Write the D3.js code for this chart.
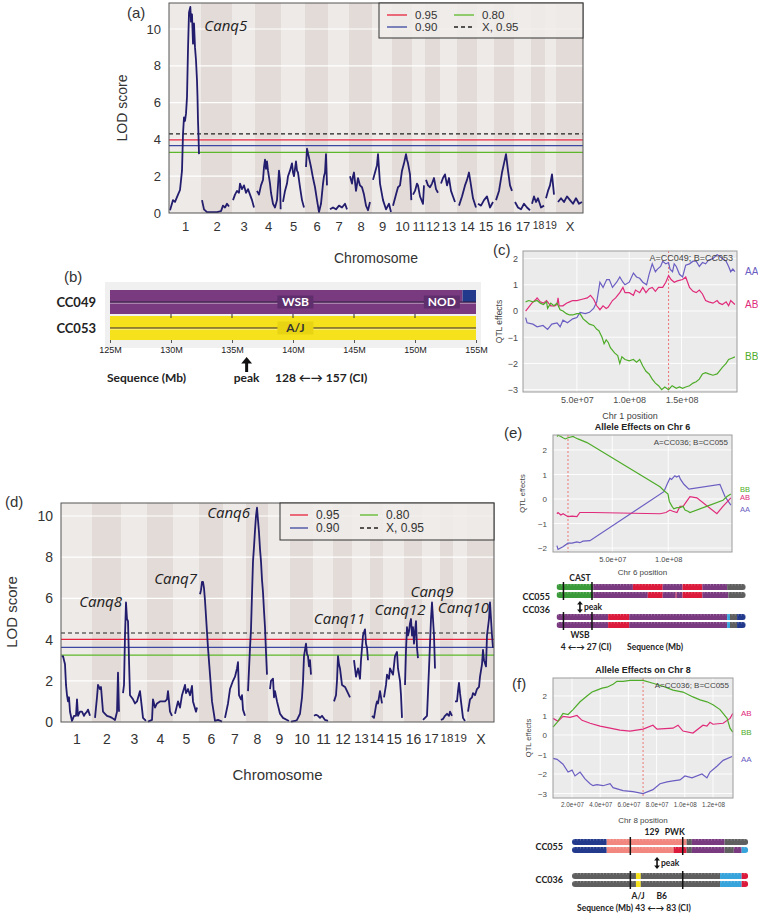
<!DOCTYPE html>
<html>
<head>
<meta charset="utf-8">
<title>Canq QTL figure</title>
<script src="https://cdn.jsdelivr.net/npm/d3@7/dist/d3.min.js"></script>
<style>
  body { margin: 0; background: #fff; }
  svg { display: block; }
  text { font-family: "Liberation Sans", Arial, sans-serif; fill: #333; }
  .cal { font-family: Lato, "Open Sans", sans-serif; font-weight: bold; fill: #222; }
  .canq { font-family: "Open Sans", sans-serif; font-style: italic; fill: #222; }
</style>
</head>
<body>
<svg id="figure" width="758" height="915"></svg>
<script>
const chromosomes = ['1','2','3','4','5','6','7','8','9','10','11','12','13','14','15','16','17','18','19','X'];

// chromosome lengths (cM) as laid out on the two genome scans
const chrLenA = [96,93,69,78,72,69,63,69,60,60,39,45,51,60,51,60,51,42,33,81];
const chrLenD = [93,87,78,78,78,72,69,66,66,69,60,57,54,39,63,54,54,39,42,81];

// genome scan (a): one list of [cM, LOD] per chromosome
const lodA = [
  [[3,0.15],[12,0.7],[18,0.6],[27,1.0],[33,1.25],[39,2.3],[42,4.3],[45,5.2],[48,5.0],[51,5.4],[54,6.3],[57,8.9],[60,10.9],[64,11.2],[66,10.4],[69,10.8],[72,9.2],[75,10.3],[78,9.0],[81,8.3],[84,7.2],[85.5,6.3],[87,5.0],[88.5,4.2],[90,3.2]],
  [[3,0.7],[9,0.2],[18,0.05],[33,0.05],[48,0.05],[60,0.1],[66,0.4],[72,0.3],[78,0.5],[84,0.35]],
  [[3,0.7],[9,1.0],[15,1.2],[21,1.1],[24,1.6],[30,1.3],[36,1.5],[42,1.1],[48,1.3],[54,1.0],[60,0.7],[66,0.3]],
  [[6,1.2],[12,1.0],[18,1.5],[24,1.8],[27,2.5],[30,2.9],[33,2.4],[36,2.8],[39,2.3],[45,1.6],[48,1.1],[54,0.5],[60,0.3],[66,0.7],[69,1.5],[72,2.3],[75,1.8],[77,0.2]],
  [[6,0.6],[12,1.2],[18,1.6],[21,2.0],[27,2.3],[33,2.7],[36,2.2],[39,2.0],[45,2.8],[48,2.3],[51,2.2],[57,1.4],[63,0.7],[69,0.3]],
  [[3,2.5],[6,3.5],[12,3.0],[18,2.5],[24,1.9],[30,1.4],[36,0.7],[42,0.05],[48,0.5],[54,1.6],[57,2.0],[60,2.2],[63,3.2],[66,1.5]],
  [[6,0.2],[15,0.3],[24,0.2],[33,0.4],[42,0.3],[51,0.5],[57,0.2]],
  [[3,2.0],[9,1.6],[12,2.0],[15,2.2],[21,1.2],[27,1.9],[33,1.5],[39,1.4],[45,1.0],[51,0.4],[57,0.15],[63,0.6]],
  [[3,1.8],[9,2.2],[15,2.6],[18,3.2],[24,1.6],[33,0.7],[42,0.2],[51,0.5],[57,0.05]],
  [[3,0.4],[12,1.0],[18,1.4],[24,1.5],[30,2.3],[36,2.7],[42,3.2],[45,2.9],[48,2.7],[54,2.1],[58,0.7]],
  [[3,1.0],[9,1.2],[15,1.6],[18,1.5],[24,0.9],[33,0.5],[36,1.5]],
  [[3,1.8],[9,1.5],[15,1.4],[21,1.6],[27,1.9],[33,1.3],[39,1.1]],
  [[3,1.6],[9,1.9],[15,2.1],[21,1.5],[27,1.9],[33,1.2],[39,0.9],[45,0.6]],
  [[6,0.4],[15,0.9],[24,1.5],[30,1.8],[36,2.2],[42,1.5],[48,0.8],[57,0.3]],
  [[3,0.5],[12,0.4],[21,0.7],[30,0.9],[39,0.3],[48,0.6]],
  [[6,0.7],[15,1.2],[24,2.2],[30,2.7],[36,3.2],[42,2.3],[48,1.5],[54,1.2]],
  [[3,0.6],[12,0.3],[21,0.2],[30,0.5],[39,0.3],[48,0.15]],
  [[3,0.5],[9,0.9],[15,0.6],[21,0.8],[30,0.3],[39,0.4]],
  [[3,0.8],[9,1.2],[15,1.5],[21,2.1],[27,1.0]],
  [[6,0.6],[15,0.8],[24,0.6],[33,0.9],[42,0.7],[51,0.5],[60,0.8],[69,0.5],[78,0.6]]
];

// genome scan (d)
const lodD = [
  [[3,3.15],[6,3.2],[9,3.0],[12,2.8],[15,1.8],[18,1.3],[21,1.0],[24,1.2],[27,0.5],[33,0.05],[39,0.3],[45,0.3],[48,1.1],[51,0.3],[57,0.5],[63,0.5],[69,0.3],[72,0.4],[78,0.5],[81,0.6],[87,0.3]],
  [[9,0.2],[15,1.2],[18,1.8],[24,1.6],[27,1.7],[33,0.5],[39,0.4],[45,0.3],[54,0.25],[60,0.2],[69,0.1],[75,0.5],[78,2.4],[81,0.5]],
  [[6,1.4],[9,1.8],[12,4.2],[15,5.8],[18,5.0],[21,4.9],[24,3.0],[27,1.3],[36,1.1],[42,0.9],[48,1.0],[57,1.5],[63,0.65],[66,0.2],[75,0.05]],
  [[3,0.02],[15,0.1],[18,1.1],[24,0.7],[30,0.9],[39,1.0],[48,1.0],[54,1.0],[60,1.1],[63,1.5],[69,0.5],[75,0.3]],
  [[6,0.4],[15,1.0],[21,0.7],[27,1.3],[36,1.8],[39,1.4],[45,1.6],[51,1.3],[57,1.75],[60,1.0],[69,0.5],[72,0.7]],
  [[3,6.2],[6,6.4],[9,6.8],[12,6.8],[15,6.5],[18,5.9],[27,3.6],[39,1.0],[48,0.05],[57,0.1],[69,0.02]],
  [[6,0.2],[15,0.9],[21,1.6],[30,2.0],[36,2.2],[42,2.6],[45,2.9],[48,1.3],[54,1.1],[57,1.3],[60,0.6],[66,0.3]],
  [[6,1.5],[12,3.6],[15,4.5],[18,6.2],[21,7.8],[24,8.5],[27,9.3],[30,10.0],[33,10.4],[36,9.8],[39,9.2],[42,8.4],[45,7.8],[48,6.9],[51,6.3],[54,5.4],[57,4.6],[60,3.4],[63,2.3]],
  [[6,1.6],[9,2.0],[15,2.1],[18,1.2],[21,1.5],[27,1.0],[36,0.4],[45,0.2],[57,0.1],[63,0.05]],
  [[3,0.02],[15,0.05],[21,0.1],[30,0.4],[36,1.2],[39,1.95],[42,3.2],[48,3.8],[51,3.3],[54,3.2],[57,2.7],[60,3.0],[63,2.3]],
  [[3,0.3],[9,0.35],[15,0.3],[21,0.2],[27,0.3],[36,0.1],[45,0.05]],
  [[3,1.0],[9,1.3],[12,2.0],[15,3.2],[18,2.8],[21,2.6],[27,1.8],[36,1.7],[45,1.4],[51,1.2]],
  [[6,3.0],[9,2.6],[12,2.2],[18,2.6],[24,2.1],[27,3.0],[30,3.6],[33,4.2],[39,4.5],[42,3.8],[45,3.6],[48,3.0]],
  [[6,0.3],[12,0.2],[18,0.8],[21,1.0],[24,0.9],[30,1.5],[36,0.9]],
  [[3,1.2],[9,1.8],[12,2.3],[18,2.1],[21,2.6],[27,2.4],[30,2.3],[36,3.2],[42,3.4],[45,2.6],[51,2.0],[54,1.3],[57,0.2]],
  [[3,1.8],[6,3.5],[9,4.6],[12,4.2],[15,4.4],[18,4.8],[21,5.0],[24,4.2],[27,4.6],[30,3.8],[33,4.4],[36,4.9],[39,3.6],[42,3.1]],
  [[3,0.1],[9,0.2],[15,0.3],[21,2.6],[24,3.8],[27,5.0],[30,5.8],[33,5.0],[36,4.2],[39,2.6]],
  [[3,0.1],[9,0.15],[15,0.3],[21,0.4],[27,0.3],[30,0.5],[36,0.3]],
  [[6,1.0],[12,1.0],[15,1.5],[18,1.9],[21,1.4],[24,1.0],[30,0.2],[36,0.05]],
  [[3,0.5],[9,1.1],[15,1.2],[18,1.4],[24,1.3],[30,1.6],[36,1.7],[39,2.2],[45,2.8],[48,3.5],[51,3.0],[57,2.7],[60,4.2],[63,4.6],[66,5.0],[69,5.8],[72,5.0],[75,4.2],[78,3.6]]
];

// permutation thresholds: 0.95, 0.90, 0.80, X-chromosome 0.95
const thresholdNames = ['0.95', '0.90', '0.80', 'X, 0.95'];
const thresholdsA = [3.97, 3.66, 3.3, 4.3];
const thresholdsD = [4.01, 3.62, 3.25, 4.32];

const qtlNamesA = ['Canq5'];
const qtlChrA = ['1'];
const qtlNamesD = ['Canq8', 'Canq7', 'Canq6', 'Canq11', 'Canq12', 'Canq9', 'Canq10'];
const qtlChrD = ['3', '6', '8', '13', '16', '17', 'X'];

// allele effects (c), chr 1: [Mb, effect]
const effC_AA = [[1,-0.25],[2.4,-0.45],[8,-0.5],[12,-0.6],[17.6,-0.55],[22,-0.7],[26,-0.5],[31,-0.45],[34,-0.6],[36.7,-0.35],[41,-0.45],[46,-0.3],[50,-0.25],[53,-0.05],[58,-0.1],[62,-0.05],[66,0.1],[69,0.35],[72,1.1],[75,0.9],[78.5,1.2],[81,1.2],[84,0.9],[88,1.1],[91,1.3],[94,1.1],[96,1.0],[100,1.1],[104,1.45],[107,1.3],[110,1.25],[113,1.1],[116.6,1.0],[119,1.4],[122,1.8],[125,1.5],[127,1.6],[130,1.7],[132,1.9],[135,1.8],[137.6,1.85],[139,1.6],[141.4,1.5],[143,1.8],[145,1.7],[148,1.4],[151,1.3],[154,1.75],[157.6,1.8],[161,1.9],[164,1.9],[167,1.7],[170,1.85],[173,1.8],[176,1.95],[180,2.0],[184,2.15],[186,2.1],[189,2.0],[192.6,1.9],[195,1.7],[197,1.5],[199,1.6],[201,1.5]];
const effC_AB = [[1,0.0],[4,0.15],[7,0.3],[11,0.45],[12,0.5],[15,0.35],[18,0.3],[21,0.4],[25,0.2],[29,0.2],[31,0.25],[32,0.5],[33,0.2],[36.7,0.2],[40,0.3],[43,0.35],[46,0.4],[50,0.4],[55,0.45],[60,0.5],[63,0.6],[66,0.45],[69,0.2],[72,0.05],[75,0.2],[78,0.1],[80,0.15],[84,0.4],[87,0.5],[91,0.7],[94,0.9],[96,0.7],[100,0.7],[104,0.6],[106,0.8],[110,0.7],[113,0.9],[116,0.7],[119,0.85],[122,0.9],[125,0.75],[128,0.9],[132,0.9],[135,1.1],[137.6,1.35],[140,1.2],[143,1.1],[146,1.15],[151,1.2],[154,1.3],[157.6,0.9],[161,0.75],[164,0.7],[167,0.8],[170,0.65],[173,0.4],[176,0.35],[180,0.3],[184,0.4],[186,0.3],[189,0.25],[192.6,0.35],[195,0.2],[197,0.4],[201,0.25]];
const effC_BB = [[1,0.35],[4,0.4],[8,0.35],[12,0.4],[15,0.3],[18,0.25],[21,0.35],[22,0.1],[25,0.3],[28,0.2],[31,0.3],[34,0.05],[36.7,0.0],[40,-0.1],[43,-0.15],[46,-0.15],[50,-0.1],[53,-0.1],[56,-0.3],[59,-0.4],[62,-0.5],[66,-0.55],[69,-0.7],[71,-0.75],[74,-1.0],[76,-1.25],[78,-1.1],[80,-1.2],[82,-1.4],[86,-1.6],[89,-1.7],[91,-2.0],[93,-1.75],[96,-1.85],[100,-1.9],[104,-1.85],[107,-1.95],[110,-1.85],[113,-2.1],[116,-2.3],[119,-2.4],[122,-2.6],[125,-2.75],[128,-2.85],[131,-3.0],[134,-2.9],[137.6,-3.0],[141,-2.85],[145,-2.95],[148,-2.9],[151,-2.95],[154,-2.9],[157.6,-2.85],[161,-2.75],[164,-2.7],[167,-2.6],[170,-2.4],[173,-2.35],[176,-2.4],[180,-2.45],[184,-2.4],[186,-2.3],[189,-2.15],[192.6,-2.0],[195,-1.85],[198,-1.8],[201,-1.75]];

// allele effects (e), chr 6
const effE_AA = [[0.5,-1.9],[1.5,-2.05],[5.9,-1.95],[10.4,-1.8],[14,-1.8],[18.4,-1.75],[21,-1.78],[23.8,-1.72],[30,-1.7],[96.1,0.3],[99,0.6],[101.5,0.85],[103,0.8],[105.9,0.95],[107.5,0.9],[109.6,0.95],[111,0.8],[114,0.6],[118.5,0.4],[146.2,0.6],[150.7,0.1],[156,-0.25]];
const effE_AB = [[0.5,-0.6],[1.5,-0.55],[4,-0.65],[6,-0.6],[10.4,-0.72],[14,-0.7],[18.4,-0.72],[21,-0.55],[32.6,-0.55],[92.6,-0.6],[98,-0.55],[101.5,-0.45],[104,-0.5],[107.8,-0.55],[110.5,-0.3],[113.3,-0.3],[119.4,0.1],[125.6,0.05],[143.5,-0.6],[148.9,-0.3],[156,0.05]];
const effE_BB = [[0.5,2.55],[1.5,2.6],[4,2.55],[5.9,2.5],[8,2.45],[10.4,2.5],[14.9,2.55],[17,2.5],[19.3,2.45],[27.4,2.3],[92.6,0.5],[96,0.35],[99.8,0.2],[101,-0.1],[103.4,-0.3],[105,-0.4],[107.8,-0.35],[110.5,-0.35],[113.3,-0.3],[115,-0.45],[117.6,-0.5],[119.4,-0.55],[137.3,-0.25],[148.9,-0.05],[152.5,0.1],[156,0.2]];

// allele effects (f), chr 8
const effF_AA = [[6.5,-1.2],[9.4,-1.25],[13.6,-1.5],[17.2,-1.9],[20,-1.8],[22.1,-2.1],[25.7,-1.9],[29.2,-2.25],[32.8,-2.5],[34.9,-2.6],[37.7,-2.55],[42,-2.6],[47,-2.5],[49.1,-2.7],[56.2,-2.85],[63.3,-2.9],[70.4,-3.0],[77.4,-2.8],[82.4,-2.5],[87.4,-2.4],[91.6,-2.35],[96.6,-2.3],[100.1,-2.1],[105.1,-2.2],[112.2,-2.0],[115.7,-2.2],[117.9,-1.9],[122.8,-1.6],[127.2,-1.3],[133.5,-1.1]];
const effF_AB = [[6.5,0.85],[10.1,0.7],[13.6,0.95],[18.6,0.9],[23.5,1.0],[27.1,0.75],[32.8,0.6],[39.9,0.45],[47,0.35],[54,0.25],[61.1,0.2],[70.4,0.3],[77.4,0.5],[80.3,0.3],[91.6,0.35],[95.2,0.5],[98.7,0.2],[105.8,0.1],[112.9,0.5],[115.7,0.45],[117.9,0.65],[120,0.55],[127.2,0.6],[132.1,0.85],[134,1.1]];
const effF_BB = [[6.5,0.4],[9.4,0.65],[13.6,1.1],[17.2,1.05],[20.7,1.3],[25.7,1.7],[30.6,2.0],[34.2,2.2],[37.7,2.3],[41.3,2.4],[44.8,2.45],[49.1,2.6],[51.9,2.75],[56.2,2.75],[61.1,2.8],[70.4,2.8],[77.4,2.65],[84.5,2.5],[91.6,2.3],[98.7,2.2],[105.8,1.95],[110.8,1.8],[115.7,1.7],[120,1.55],[125,1.3],[130,0.85],[132.1,0.35],[134,0.15]];

// haplotype mosaics: [startMb, endMb, founder], two copies per strain
const hapB_CC049 = [[[125,153.9,'WSB'],[153.9,155,'NOD']], [[125,155,'WSB']]];
const hapB_CC053 = [[[125,155,'AJ']], [[125,155,'AJ']]];
const hapE_CC055 = [
  [[0,28,'CAST'],[28,60,'WSB'],[60,84,'PWK'],[84,100,'WSB'],[100,116,'PWK'],[116,136,'WSB'],[136,151,'B6']],
  [[0,28,'CAST'],[28,72,'WSB'],[72,84,'PWK'],[84,94.5,'WSB'],[94.5,95.3,'PWK'],[95.3,100,'WSB'],[100,116,'PWK'],[116,137,'WSB'],[137,151,'B6']]
];
const hapE_CC036 = [
  [[0,40,'WSB'],[40,57,'PWK'],[57,136,'WSB'],[136,138.3,'NZO'],[138.3,144,'B6'],[144,151,'NOD']],
  [[0,40,'WSB'],[40,57,'PWK'],[57,136,'WSB'],[136,138.3,'NZO'],[138.3,144,'B6'],[144,151,'NOD']]
];
const hapF_CC055 = [
  [[0,25,'NOD'],[25,86,'129'],[86,90,'B6'],[90,115,'WSB'],[115,133,'B6']],
  [[0,25,'NOD'],[25,76,'129'],[76,86,'PWK'],[86,90,'B6'],[90,115,'WSB'],[115,122,'B6'],[122,128,'WSB'],[128,133,'NZO']]
];
const hapF_CC036 = [
  [[0,47.3,'B6'],[47.3,51,'AJ'],[51,111.5,'B6'],[111.5,128,'NZO'],[128,133,'PWK']],
  [[0,47.3,'B6'],[47.3,51,'AJ'],[51,111.5,'B6'],[111.5,128,'NZO'],[128,133,'PWK']]
];

const founderColors = {AJ:'#f6e21c', B6:'#5f5f5f', '129':'#f1877f', NOD:'#22398c', NZO:'#38a4dc', CAST:'#3b9b3b', PWK:'#dc1a3c', WSB:'#7a3a80'};
const effectColors = {AA:'#6a5ec2', AB:'#e02a7a', BB:'#4fac2a'};
const thresholdStyles = [
  {color:'#e8233c', width:1.2, dash:null},
  {color:'#3b47a0', width:1.2, dash:null},
  {color:'#5cb82a', width:1.3, dash:null},
  {color:'#222', width:1.2, dash:'4,3'}
];

const svg = d3.select('#figure');
svg.append('rect').attr('width', 758).attr('height', 915).attr('fill', '#fff');
let clipCount = 0;

function styleAxis(ax, size, color) {
  ax.attr('font-family', null).attr('font-size', size);
  ax.select('.domain').remove();
  ax.selectAll('text').style('fill', color);
}

// shrink neighbouring tick labels that would run into each other
function squeezeLabels(ax, size) {
  const nodes = ax.selectAll('text').nodes();
  for (let i = 0; i < nodes.length - 1; i++) {
    let fs = size;
    while (fs > 8) {
      const a = nodes[i].getBBox(), b = nodes[i + 1].getBBox();
      const ax0 = nodes[i].parentNode.transform.baseVal.consolidate().matrix.e;
      const bx0 = nodes[i + 1].parentNode.transform.baseVal.consolidate().matrix.e;
      if (ax0 + a.x + a.width <= bx0 + b.x - 0.5) break;
      fs -= 0.5;
      d3.select(nodes[i]).attr('font-size', fs);
      d3.select(nodes[i + 1]).attr('font-size', fs);
    }
  }
}

function genomePanel(p) {
  const g = svg.append('g');
  const starts = [0].concat(Array.from(d3.cumsum(p.chrLen)));
  const x = d3.scaleLinear().domain([0, starts[starts.length - 1]]).range([p.left, p.right]);
  const y = d3.scaleLinear().domain([0, 10]).range([p.yZero, p.yTen]);

  g.selectAll('rect.band').data(chromosomes).join('rect')
    .attr('x', (d, i) => x(starts[i])).attr('y', p.top)
    .attr('width', (d, i) => x(starts[i + 1]) - x(starts[i]))
    .attr('height', p.yZero - p.top)
    .attr('fill', (d, i) => i % 2 ? '#e3dbd7' : '#eeeae8');

  g.selectAll('line.grid').data([2, 4, 6, 8, 10]).join('line')
    .attr('x1', p.left).attr('x2', p.right)
    .attr('y1', d => y(d)).attr('y2', d => y(d))
    .attr('stroke', '#fff').attr('stroke-width', 1.2);

  p.thresholds.forEach((t, i) => {
    const s = thresholdStyles[i];
    g.append('line').attr('x1', p.left).attr('x2', p.right)
      .attr('y1', y(t)).attr('y2', y(t))
      .attr('stroke', s.color).attr('stroke-width', s.width)
      .attr('stroke-dasharray', s.dash);
  });

  const line = d3.line().x(d => x(d[0])).y(d => y(d[1]));
  p.lod.forEach((pts, i) => {
    g.append('path')
      .datum(pts.map(d => [starts[i] + d[0], d[1]]))
      .attr('d', line).attr('fill', 'none')
      .attr('stroke', '#231d6e').attr('stroke-width', 1.8)
      .attr('stroke-linejoin', 'round');
  });

  g.append('rect').attr('x', p.left).attr('y', p.top)
    .attr('width', p.right - p.left).attr('height', p.yZero - p.top)
    .attr('fill', 'none').attr('stroke', '#555').attr('stroke-width', 1);

  const ya = g.append('g').attr('transform', `translate(${p.left},0)`)
    .call(d3.axisLeft(y).tickValues([0, 2, 4, 6, 8, 10]).tickSize(0).tickPadding(p.left - p.tickRight));
  styleAxis(ya, p.tickSize, '#333');

  const mids = chromosomes.map((c, i) => (starts[i] + starts[i + 1]) / 2);
  const xa = g.append('g').attr('transform', `translate(0,${p.yZero})`)
    .call(d3.axisBottom(x).tickValues(mids).tickFormat((d, i) => chromosomes[i]).tickSize(0).tickPadding(p.chrPad));
  styleAxis(xa, p.tickSize, '#333');
  xa.selectAll('text').attr('font-size', p.tickSize);
  squeezeLabels(xa, p.tickSize);

  g.append('text').attr('x', (p.left + p.right) / 2).attr('y', p.xTitleY)
    .attr('text-anchor', 'middle').attr('font-size', p.titleSize).text('Chromosome');
  g.append('text').attr('transform', `translate(${p.yTitleX},${p.yTitleY}) rotate(-90)`)
    .attr('text-anchor', 'middle').attr('dy', '0.35em').attr('font-size', p.titleSize).text('LOD score');
  g.append('text').attr('x', p.tagX).attr('y', p.tagY).attr('font-size', 15).text(p.tag);

  // legend: 0.95 / 0.90 in the first column, 0.80 / X in the second
  const lg = p.legend;
  g.append('rect').attr('x', lg.x).attr('y', p.top).attr('width', p.right - lg.x).attr('height', lg.h)
    .attr('fill', '#f0ecea').attr('fill-opacity', 0.85).attr('stroke', '#333').attr('stroke-width', 1);
  thresholdNames.forEach((name, k) => {
    const col = k < 2 ? 0 : 1, row = k % 2;
    const s = thresholdStyles[k];
    const lx = lg.cols[col], ly = lg.rows[row];
    g.append('line').attr('x1', lx).attr('x2', lx + lg.lineW).attr('y1', ly).attr('y2', ly)
      .attr('stroke', s.color).attr('stroke-width', 1.3).attr('stroke-dasharray', s.dash);
    g.append('text').attr('x', lx + lg.lineW + 8).attr('y', ly).attr('dy', '0.35em')
      .attr('font-size', lg.size).text(name);
  });

  // QTL names next to their peaks
  p.qtlNames.forEach((name, j) => {
    const ci = chromosomes.indexOf(p.qtlChr[j]);
    const peak = d3.greatest(p.lod[ci], d => d[1]);
    const o = p.qtlLayout[j];
    g.append('text').attr('class', 'canq')
      .attr('x', x(starts[ci] + peak[0]) + o[0]).attr('y', y(peak[1]) + o[1])
      .attr('text-anchor', o[2]).attr('font-size', 15).text(name);
  });
}

genomePanel({
  chrLen: chrLenA, lod: lodA, thresholds: thresholdsA,
  left: 169, right: 583, top: 3, yZero: 213, yTen: 29,
  tickSize: 13, tickRight: 161, chrPad: 9,
  titleSize: 14, xTitleY: 263, yTitleX: 122, yTitleY: 108,
  tag: '(a)', tagX: 127, tagY: 18,
  legend: {x: 379, h: 35, cols: [387, 454], rows: [15, 27], lineW: 20, size: 11.5},
  qtlNames: qtlNamesA, qtlChr: qtlChrA, qtlLayout: [[14, 24, 'start']]
});

genomePanel({
  chrLen: chrLenD, lod: lodD, thresholds: thresholdsD,
  left: 61, right: 494, top: 503, yZero: 722, yTen: 516,
  tickSize: 14, tickRight: 53, chrPad: 12,
  titleSize: 15, xTitleY: 780, yTitleX: 12, yTitleY: 612,
  tag: '(d)', tagX: 5, tagY: 507,
  legend: {x: 280, h: 37, cols: [290, 360], rows: [515, 528], lineW: 18, size: 12},
  qtlNames: qtlNamesD, qtlChr: qtlChrD,
  qtlLayout: [[-4, 4, 'end'], [-5, 2, 'end'], [-7, 10, 'end'], [0, -5, 'end'], [-11, -4, 'middle'], [0, -5.5, 'middle'], [-1, 10, 'end']]
});

function effectPanel(p) {
  const g = svg.append('g');
  const x = d3.scaleLinear().domain(p.xDomain).range([p.left, p.right]);
  const y = d3.scaleLinear().domain(p.yDomain).range([p.bottom, p.top]);

  g.append('rect').attr('x', p.left).attr('y', p.top)
    .attr('width', p.right - p.left).attr('height', p.bottom - p.top).attr('fill', '#ebebeb');
  g.selectAll('line.gx').data(p.xTicks).join('line')
    .attr('x1', d => x(d)).attr('x2', d => x(d)).attr('y1', p.top).attr('y2', p.bottom)
    .attr('stroke', '#fff').attr('stroke-width', 0.9);
  g.selectAll('line.gy').data(p.yTicks).join('line')
    .attr('x1', p.left).attr('x2', p.right).attr('y1', d => y(d)).attr('y2', d => y(d))
    .attr('stroke', '#fff').attr('stroke-width', 0.9);
  g.append('line').attr('x1', x(p.peak)).attr('x2', x(p.peak)).attr('y1', p.top).attr('y2', p.bottom)
    .attr('stroke', '#ee6b6b').attr('stroke-width', 0.9).attr('stroke-dasharray', '2,2');

  const line = d3.line().x(d => x(d[0])).y(d => y(d[1]));
  p.series.forEach(([key, pts]) => {
    g.append('path').datum(pts).attr('d', line).attr('fill', 'none')
      .attr('stroke', effectColors[key]).attr('stroke-width', 1.2);
    const last = pts[pts.length - 1];
    g.append('text').attr('x', p.right + 8).attr('y', y(last[1]) + (p.labelShift[key] || 0))
      .attr('dy', '0.35em').attr('font-size', p.keySize).style('fill', effectColors[key]).text(key);
  });

  g.append('rect').attr('x', p.left).attr('y', p.top)
    .attr('width', p.right - p.left).attr('height', p.bottom - p.top)
    .attr('fill', 'none').attr('stroke', '#9c9c9c').attr('stroke-width', 1);

  const ya = g.append('g').attr('transform', `translate(${p.left},0)`)
    .call(d3.axisLeft(y).tickValues(p.yTicks).tickFormat(d3.format('d')).tickSize(0).tickPadding(p.yPad));
  styleAxis(ya, p.small, '#4a4a4a');
  const xa = g.append('g').attr('transform', `translate(0,${p.bottom})`)
    .call(d3.axisBottom(x).tickValues(p.xTicks).tickFormat((d, i) => p.xTickLabels[i]).tickSize(0).tickPadding(5));
  styleAxis(xa, p.xTickSize, '#4a4a4a');

  g.append('text').attr('x', p.right - 4).attr('y', p.top + 7).attr('dy', '0.35em')
    .attr('text-anchor', 'end').attr('font-size', p.small).style('fill', '#444').text(p.note);
  g.append('text').attr('x', (p.left + p.right) / 2).attr('y', p.xTitleY)
    .attr('text-anchor', 'middle').attr('font-size', p.small).style('fill', '#444').text(p.xTitle);
  g.append('text').attr('transform', `translate(${p.yTitleX},${(p.top + p.bottom) / 2}) rotate(-90)`)
    .attr('text-anchor', 'middle').attr('font-size', p.small - 0.5).style('fill', '#444').text('QTL effects');
  if (p.title) {
    g.append('text').attr('x', (p.left + p.right) / 2).attr('y', p.top - 5)
      .attr('text-anchor', 'middle').attr('font-size', p.small + 1).attr('font-weight', 'bold')
      .style('fill', '#222').text(p.title);
  }
  g.append('text').attr('x', p.tagX).attr('y', p.tagY).attr('font-size', 15).text(p.tag);
}

const ticksC = [50, 100, 150];
const tickLabelsC = ['5.0e+07', '1.0e+08', '1.5e+08'];
const ticksE = [50, 100];
const tickLabelsE = ['5.0e+07', '1.0e+08'];
const ticksF = [20, 40, 60, 80, 100, 120];
const tickLabelsF = ['2.0e+07', '4.0e+07', '6.0e+07', '8.0e+07', '1.0e+08', '1.2e+08'];

effectPanel({
  left: 523, right: 737, top: 251, bottom: 392,
  xDomain: [-1.5, 203], yDomain: [-3.09, 2.29],
  xTicks: ticksC, xTickLabels: tickLabelsC, yTicks: [-3, -2, -1, 0, 1, 2],
  peak: 137.6, small: 9, xTickSize: 9, keySize: 10, yPad: 5, labelShift: {},
  series: [['AA', effC_AA], ['AB', effC_AB], ['BB', effC_BB]],
  note: 'A=CC049; B=CC053', xTitle: 'Chr 1 position', xTitleY: 419, yTitleX: 502,
  tag: '(c)', tagX: 493, tagY: 255
});

effectPanel({
  left: 553, right: 732, top: 435, bottom: 552,
  xDomain: [-3, 157], yDomain: [-2.16, 2.61],
  xTicks: ticksE, xTickLabels: tickLabelsE, yTicks: [-2, -1, 0, 1, 2],
  peak: 10.4, small: 8, xTickSize: 7.5, keySize: 7.5, yPad: 6, labelShift: {BB: -5, AB: 0, AA: 4},
  series: [['AA', effE_AA], ['AB', effE_AB], ['BB', effE_BB]],
  note: 'A=CC036; B=CC055', xTitle: 'Chr 6 position', xTitleY: 575, yTitleX: 525,
  title: 'Allele Effects on Chr 6', tag: '(e)', tagX: 504, tagY: 438
});

effectPanel({
  left: 553, right: 733, top: 678, bottom: 798,
  xDomain: [6.5, 134.2], yDomain: [-3.23, 2.92],
  xTicks: ticksF, xTickLabels: tickLabelsF, yTicks: [-3, -2, -1, 0, 1, 2],
  peak: 70.4, small: 8, xTickSize: 6.3, keySize: 8, yPad: 6, labelShift: {AA: 3},
  series: [['AA', effF_AA], ['AB', effF_AB], ['BB', effF_BB]],
  note: 'A=CC036; B=CC055', xTitle: 'Chr 8 position', xTitleY: 823, yTitleX: 531,
  title: 'Allele Effects on Chr 8', tag: '(f)', tagX: 512, tagY: 689
});

function haploBar(g, x, yTop, h, segs, rounded) {
  const id = 'hap' + (clipCount++);
  const x0 = x(segs[0][0]) - (rounded ? 2 : 0);
  const x1 = x(segs[segs.length - 1][1]);
  g.append('clipPath').attr('id', id).append('rect')
    .attr('x', x0).attr('y', yTop).attr('width', x1 - x0).attr('height', h)
    .attr('rx', rounded ? h / 2 : 0);
  const bar = g.append('g').attr('clip-path', `url(#${id})`);
  bar.selectAll('rect').data(segs).join('rect')
    .attr('x', (d, i) => i === 0 ? x0 : x(d[0]))
    .attr('y', yTop).attr('height', h)
    .attr('width', (d, i) => x(d[1]) - (i === 0 ? x0 : x(d[0])))
    .attr('fill', d => founderColors[d[2]]);
  if (rounded) {
    bar.selectAll('line').data(d3.range(segs[0][0], segs[segs.length - 1][1], 2.5)).join('line')
      .attr('x1', d => x(d)).attr('x2', d => x(d)).attr('y1', yTop).attr('y2', yTop + 1.6)
      .attr('stroke', '#fff').attr('stroke-opacity', 0.45).attr('stroke-width', 0.6);
  }
}

function vArrow(g, cx, y1, y2, both, w) {
  const hw = w * 1.8, hh = w * 2.2;
  g.append('line').attr('x1', cx).attr('x2', cx)
    .attr('y1', y1 + hh * 0.8).attr('y2', both ? y2 - hh * 0.8 : y2)
    .attr('stroke', '#111').attr('stroke-width', w);
  g.append('path').attr('d', `M${cx - hw},${y1 + hh}L${cx},${y1}L${cx + hw},${y1 + hh}Z`).attr('fill', '#111');
  if (both) g.append('path').attr('d', `M${cx - hw},${y2 - hh}L${cx},${y2}L${cx + hw},${y2 - hh}Z`).attr('fill', '#111');
}

// panel (b): chr 1 haplotypes 125-155 Mb
(function() {
  const g = svg.append('g');
  const x = d3.scaleLinear().domain([125, 155]).range([110, 476]);
  g.append('rect').attr('x', 105).attr('y', 282).attr('width', 376).attr('height', 66).attr('fill', '#f0f0f0');
  g.append('text').attr('x', 64).attr('y', 282).attr('font-size', 15).text('(b)');

  const rows = [[hapB_CC049, 290, 'CC049'], [hapB_CC053, 316, 'CC053']];
  rows.forEach(([hap, top, name]) => {
    haploBar(g, x, top, 12, hap[0], false);
    haploBar(g, x, top + 12, 12, hap[1], false);
    g.append('line').attr('x1', x(125)).attr('x2', x(155)).attr('y1', top + 12).attr('y2', top + 12)
      .attr('stroke', '#2a1e3a').attr('stroke-width', 1);
    g.append('line').attr('x1', x(125)).attr('x2', x(155)).attr('y1', top + 13.3).attr('y2', top + 13.3)
      .attr('stroke', '#fff').attr('stroke-opacity', 0.45).attr('stroke-width', 1);
    g.append('text').attr('class', 'cal').attr('x', 96).attr('y', top + 12).attr('dy', '0.35em')
      .attr('text-anchor', 'end').attr('font-size', 13).text(name);
  });

  const labelText = ['WSB', 'NOD', 'A/J'];
  const labelMb = [140.2, 152.2, 140.2];
  const labelRow = [0, 0, 1];
  labelText.forEach((t, i) => {
    const cy = labelRow[i] ? 328 : 302;
    const cx = x(labelMb[i]);
    const aj = t === 'A/J';
    g.append('rect').attr('x', cx - 18).attr('y', cy - 6.5).attr('width', 36).attr('height', 13)
      .attr('fill', aj ? '#e9d413' : '#5f2e6c');
    g.append('text').attr('class', 'cal').attr('x', cx).attr('y', cy).attr('dy', '0.36em')
      .attr('text-anchor', 'middle').attr('font-size', 12).style('fill', aj ? '#333' : '#fff').text(t);
  });

  g.selectAll('line.tk').data([130, 135, 140, 145, 150]).join('line')
    .attr('x1', d => x(d)).attr('x2', d => x(d)).attr('y1', 314).attr('y2', 318)
    .attr('stroke', '#333').attr('stroke-width', 1);
  const ax = g.append('g').attr('transform', 'translate(0,340)')
    .call(d3.axisBottom(x).tickValues([125, 130, 135, 140, 145, 150, 155]).tickFormat(d => d + 'M').tickSize(3).tickPadding(4));
  styleAxis(ax, 9, '#222');
  ax.selectAll('line').attr('stroke', '#555');

  const peakB = 136.2;
  vArrow(g, x(peakB), 357, 372, false, 3);
  g.append('text').attr('class', 'cal').attr('x', 107).attr('y', 382).attr('font-size', 12).text('Sequence (Mb)');
  g.append('text').attr('class', 'cal').attr('x', x(peakB)).attr('y', 382).attr('text-anchor', 'middle').attr('font-size', 12).text('peak');
  g.append('text').attr('class', 'cal').attr('x', 275).attr('y', 382).attr('font-size', 12).text('128 ←→ 157 (CI)');
})();

// panels (e) and (f): haplotype mosaics under the effect plots
function mosaic(cfg) {
  const g = svg.append('g');
  const x = d3.scaleLinear().domain(cfg.domain).range(cfg.range);
  cfg.strains.forEach(([hap, top, name, labelY]) => {
    haploBar(g, x, top, 6, hap[0], true);
    haploBar(g, x, top + 8, 6, hap[1], true);
    g.append('text').attr('class', 'cal').attr('x', cfg.nameX).attr('y', labelY).attr('dy', '0.35em')
      .attr('text-anchor', 'end').attr('font-size', 9).text(name);
    cfg.ci.forEach(mb => {
      g.append('line').attr('x1', x(mb)).attr('x2', x(mb)).attr('y1', top - 2).attr('y2', top + 16)
        .attr('stroke', '#111').attr('stroke-width', 1.5);
    });
  });
  vArrow(g, x(cfg.peak), cfg.arrowY[0], cfg.arrowY[1], true, 1.6);
  g.append('text').attr('class', 'cal').attr('x', x(cfg.peak) + 4).attr('y', (cfg.arrowY[0] + cfg.arrowY[1]) / 2)
    .attr('dy', '0.35em').attr('font-size', 8.5).text('peak');
  cfg.labels.forEach(([t, mb, ly]) => {
    g.append('text').attr('class', 'cal').attr('x', x(mb)).attr('y', ly).attr('dy', '0.35em')
      .attr('text-anchor', 'middle').attr('font-size', 8.5).text(t);
  });
  g.append('text').attr('class', 'cal').attr('x', cfg.seqX).attr('y', cfg.seqY).attr('dy', '0.35em')
    .attr('text-anchor', 'middle').attr('font-size', 8.5).text('Sequence (Mb)');
  g.append('text').attr('class', 'cal').attr('x', cfg.ciX).attr('y', cfg.seqY).attr('dy', '0.35em')
    .attr('text-anchor', 'middle').attr('font-size', 8.5).text(`${cfg.ci[0]} ←→ ${cfg.ci[1]} (CI)`);
}

mosaic({
  domain: [0, 150], range: [558.5, 744.5], ci: [4, 27], peak: 17.3,
  strains: [[hapE_CC055, 584, 'CC055', 596.5], [hapE_CC036, 614, 'CC036', 609.5]],
  nameX: 550, arrowY: [601, 613],
  labels: [['CAST', 17.3, 578], ['WSB', 17.3, 635]],
  seqX: 655, seqY: 647, ciX: 586
});

mosaic({
  domain: [0, 133], range: [574, 748.2], ci: [43, 83], peak: 63.4,
  strains: [[hapF_CC055, 839, 'CC055', 847], [hapF_CC036, 873, 'CC036', 880]],
  nameX: 563, arrowY: [857, 869],
  labels: [['129', 59.5, 832], ['PWK', 77, 832], ['A/J', 48.9, 896], ['B6', 67, 896]],
  seqX: 605, seqY: 908, ciX: 663
});
</script>
</body>
</html>
